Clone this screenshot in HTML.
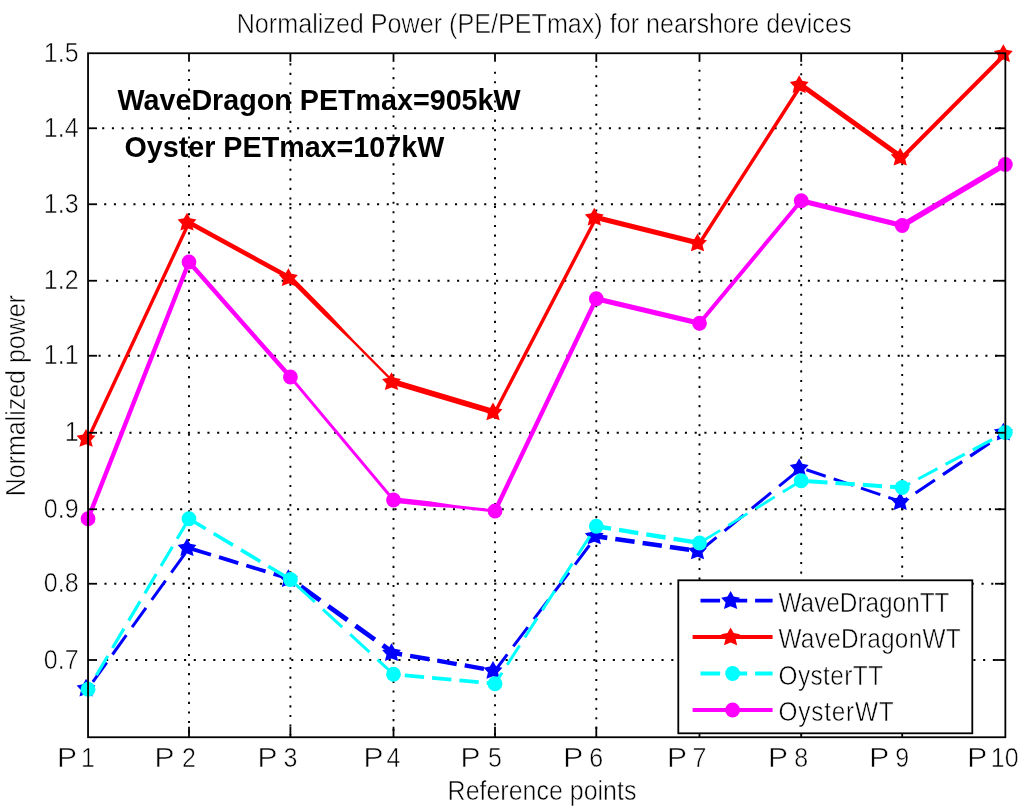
<!DOCTYPE html>
<html><head><meta charset="utf-8"><title>Normalized Power</title>
<style>html,body{margin:0;padding:0;background:#fff;}body{width:1024px;height:809px;overflow:hidden;}svg{display:block;will-change:transform;}text{font-family:"Liberation Sans",sans-serif;fill:#000;}</style></head><body>
<svg width="1024" height="809" viewBox="0 0 1024 809">
<rect x="0" y="0" width="1024" height="809" fill="#fff"/>
<g stroke="#000" stroke-width="1.9" fill="none">
<line x1="189.0" y1="69.38" x2="189.0" y2="735.25" stroke-dasharray="2.1 7.483"/>
<line x1="290.4" y1="63.28" x2="290.4" y2="735.25" stroke-dasharray="2.1 7.483"/>
<line x1="393.5" y1="67.48" x2="393.5" y2="735.25" stroke-dasharray="2.1 7.483"/>
<line x1="495.0" y1="71.65" x2="495.0" y2="735.25" stroke-dasharray="2.1 7.483"/>
<line x1="596.3" y1="65.63" x2="596.3" y2="735.25" stroke-dasharray="2.1 7.483"/>
<line x1="699.5" y1="69.63" x2="699.5" y2="735.25" stroke-dasharray="2.1 7.483"/>
<line x1="801.2" y1="63.64" x2="801.2" y2="735.25" stroke-dasharray="2.1 7.483"/>
<line x1="902.2" y1="67.28" x2="902.2" y2="735.25" stroke-dasharray="2.1 7.483"/>
<line x1="102.15" y1="128.25" x2="1003.35" y2="128.25" stroke-dasharray="2.1 7.645"/>
<line x1="104.15" y1="204.25" x2="1003.35" y2="204.25" stroke-dasharray="2.1 7.645"/>
<line x1="106.25" y1="280.75" x2="1003.35" y2="280.75" stroke-dasharray="2.1 7.645"/>
<line x1="98.55" y1="355.75" x2="1003.35" y2="355.75" stroke-dasharray="2.1 7.645"/>
<line x1="100.20" y1="432.75" x2="1003.35" y2="432.75" stroke-dasharray="2.1 7.645"/>
<line x1="102.12" y1="509.25" x2="1003.35" y2="509.25" stroke-dasharray="2.1 7.645"/>
<line x1="104.45" y1="583.75" x2="1003.35" y2="583.75" stroke-dasharray="2.1 7.645"/>
<line x1="106.05" y1="660.0" x2="1003.35" y2="660.0" stroke-dasharray="2.1 7.645"/>
</g>
<path d="M92.86,681.80L106.73,662.50 M112.48,654.50L126.35,635.20 M132.09,627.20L145.96,607.90 M151.71,599.90L165.58,580.60 M171.32,572.60L185.19,553.30" fill="none" stroke="#0000ff" stroke-width="3.0"/>
<path d="M191.70,548.83L211.00,554.73 M219.00,557.17L238.30,563.07 M246.30,565.52L265.60,571.42 M273.60,573.86L290.40,579.00" fill="none" stroke="#0000ff" stroke-width="3.8"/>
<path d="M290.40,579.00L292.90,580.79 M300.90,586.54L320.20,600.39 M328.20,606.13L347.50,619.98 M355.50,625.73L374.80,639.58 M382.80,645.32L393.50,653.00" fill="none" stroke="#0000ff" stroke-width="4.8"/>
<path d="M393.50,653.00L402.10,654.50 M410.10,655.90L429.40,659.28 M437.40,660.68L456.70,664.05 M464.70,665.45L484.00,668.83 M492.00,670.23L495.00,670.75" fill="none" stroke="#0000ff" stroke-width="4.4"/>
<path d="M495.00,670.75L507.28,654.45 M513.30,646.45L527.84,627.15 M533.86,619.15L548.40,599.85 M554.42,591.85L568.96,572.55 M574.99,564.55L589.52,545.25 M595.55,537.25L596.30,536.25" fill="none" stroke="#0000ff" stroke-width="3.0"/>
<path d="M596.30,536.25L607.30,537.85 M615.30,539.01L634.60,541.82 M642.60,542.98L661.90,545.78 M669.90,546.95L689.20,549.75 M697.20,550.92L699.50,551.25" fill="none" stroke="#0000ff" stroke-width="4.6"/>
<path d="M699.50,551.25L716.50,537.33 M724.50,530.79L743.80,514.99 M751.80,508.44L771.10,492.64 M779.10,486.09L798.40,470.29" fill="none" stroke="#0000ff" stroke-width="3.0"/>
<path d="M806.40,469.75L825.70,476.25 M833.70,478.94L853.00,485.44 M861.00,488.13L880.30,494.63 M888.30,497.32L902.20,502.00" fill="none" stroke="#0000ff" stroke-width="3.0"/>
<path d="M902.20,502.00L907.60,498.36 M915.60,492.97L934.90,479.97 M942.90,474.58L962.20,461.57 M970.20,456.18L989.50,443.18 M997.50,437.79L1005.35,432.50" fill="none" stroke="#0000ff" stroke-width="3.2"/>
<g fill="#0000ff"><polygon points="86.05,678.70 89.17,684.31 95.47,685.54 91.09,690.24 92.68,696.61 86.05,693.90 79.42,696.61 81.01,690.24 76.63,685.54 82.93,684.31"/><polygon points="187.00,538.20 190.12,543.81 196.42,545.04 192.04,549.74 193.63,556.11 187.00,553.40 180.37,556.11 181.96,549.74 177.58,545.04 183.88,543.81"/><polygon points="288.40,569.20 291.52,574.81 297.82,576.04 293.44,580.74 295.03,587.11 288.40,584.40 281.77,587.11 283.36,580.74 278.98,576.04 285.28,574.81"/><polygon points="391.50,643.20 394.62,648.81 400.92,650.04 396.54,654.74 398.13,661.11 391.50,658.40 384.87,661.11 386.46,654.74 382.08,650.04 388.38,648.81"/><polygon points="493.00,660.95 496.12,666.56 502.42,667.79 498.04,672.49 499.63,678.86 493.00,676.15 486.37,678.86 487.96,672.49 483.58,667.79 489.88,666.56"/><polygon points="594.30,526.45 597.42,532.06 603.72,533.29 599.34,537.99 600.93,544.36 594.30,541.65 587.67,544.36 589.26,537.99 584.88,533.29 591.18,532.06"/><polygon points="697.50,541.45 700.62,547.06 706.92,548.29 702.54,552.99 704.13,559.36 697.50,556.65 690.87,559.36 692.46,552.99 688.08,548.29 694.38,547.06"/><polygon points="799.20,458.20 802.32,463.81 808.62,465.04 804.24,469.74 805.83,476.11 799.20,473.40 792.57,476.11 794.16,469.74 789.78,465.04 796.08,463.81"/><polygon points="900.20,492.20 903.32,497.81 909.62,499.04 905.24,503.74 906.83,510.11 900.20,507.40 893.57,510.11 895.16,503.74 890.78,499.04 897.08,497.81"/><polygon points="1003.35,422.70 1006.47,428.31 1012.77,429.54 1008.39,434.24 1009.98,440.61 1003.35,437.90 996.72,440.61 998.31,434.24 993.93,429.54 1000.23,428.31"/></g>
<line x1="88.05" y1="438.75" x2="189.00" y2="222.50" stroke="#ff0000" stroke-width="3.4" stroke-linecap="round"/>
<line x1="189.00" y1="222.50" x2="290.40" y2="278.00" stroke="#ff0000" stroke-width="4.6" stroke-linecap="round"/>
<polygon points="288.73,279.65 324.82,316.05 351.41,341.24 392.65,382.84 394.35,381.16 353.11,339.56 328.15,312.75 292.07,276.35" fill="#ff0000"/>
<line x1="393.50" y1="382.00" x2="495.00" y2="412.25" stroke="#ff0000" stroke-width="5.6" stroke-linecap="round"/>
<line x1="495.00" y1="412.25" x2="596.30" y2="217.50" stroke="#ff0000" stroke-width="3.4" stroke-linecap="round"/>
<line x1="596.30" y1="217.50" x2="699.50" y2="243.25" stroke="#ff0000" stroke-width="5.0" stroke-linecap="round"/>
<line x1="699.50" y1="243.25" x2="801.20" y2="85.00" stroke="#ff0000" stroke-width="3.5" stroke-linecap="round"/>
<line x1="801.20" y1="85.00" x2="902.20" y2="157.50" stroke="#ff0000" stroke-width="5.0" stroke-linecap="round"/>
<line x1="902.20" y1="157.50" x2="1005.35" y2="54.00" stroke="#ff0000" stroke-width="3.9" stroke-linecap="round"/>
<g fill="#ff0000"><polygon points="86.05,428.95 89.17,434.56 95.47,435.79 91.09,440.49 92.68,446.86 86.05,444.15 79.42,446.86 81.01,440.49 76.63,435.79 82.93,434.56"/><polygon points="187.00,212.70 190.12,218.31 196.42,219.54 192.04,224.24 193.63,230.61 187.00,227.90 180.37,230.61 181.96,224.24 177.58,219.54 183.88,218.31"/><polygon points="288.40,268.20 291.52,273.81 297.82,275.04 293.44,279.74 295.03,286.11 288.40,283.40 281.77,286.11 283.36,279.74 278.98,275.04 285.28,273.81"/><polygon points="391.50,372.20 394.62,377.81 400.92,379.04 396.54,383.74 398.13,390.11 391.50,387.40 384.87,390.11 386.46,383.74 382.08,379.04 388.38,377.81"/><polygon points="493.00,402.45 496.12,408.06 502.42,409.29 498.04,413.99 499.63,420.36 493.00,417.65 486.37,420.36 487.96,413.99 483.58,409.29 489.88,408.06"/><polygon points="594.30,207.70 597.42,213.31 603.72,214.54 599.34,219.24 600.93,225.61 594.30,222.90 587.67,225.61 589.26,219.24 584.88,214.54 591.18,213.31"/><polygon points="697.50,233.45 700.62,239.06 706.92,240.29 702.54,244.99 704.13,251.36 697.50,248.65 690.87,251.36 692.46,244.99 688.08,240.29 694.38,239.06"/><polygon points="799.20,75.20 802.32,80.81 808.62,82.04 804.24,86.74 805.83,93.11 799.20,90.40 792.57,93.11 794.16,86.74 789.78,82.04 796.08,80.81"/><polygon points="900.20,147.70 903.32,153.31 909.62,154.54 905.24,159.24 906.83,165.61 900.20,162.90 893.57,165.61 895.16,159.24 890.78,154.54 897.08,153.31"/><polygon points="1003.35,44.20 1006.47,49.81 1012.77,51.04 1008.39,55.74 1009.98,62.11 1003.35,59.40 996.72,62.11 998.31,55.74 993.93,51.04 1000.23,49.81"/></g>
<path d="M88.05,689.25L91.60,683.25 M96.34,675.25L107.77,655.95 M112.50,647.95L123.93,628.65 M128.67,620.65L140.09,601.35 M144.83,593.35L156.26,574.05 M160.99,566.05L172.42,546.75 M177.16,538.75L188.59,519.45" fill="none" stroke="#00ffff" stroke-width="3.2"/>
<path d="M189.00,518.75L205.70,528.76 M213.70,533.55L233.00,545.11 M241.00,549.90L260.30,561.47 M268.30,566.26L287.60,577.82" fill="none" stroke="#00ffff" stroke-width="3.6"/>
<path d="M295.60,584.28L314.90,602.02 M322.90,609.37L342.20,627.10 M350.20,634.46L369.50,652.19 M377.50,659.55L393.50,674.25" fill="none" stroke="#00ffff" stroke-width="3.0"/>
<path d="M393.50,674.25L396.80,674.56 M404.80,675.31L424.10,677.11 M432.10,677.86L451.40,679.67 M459.40,680.42L478.70,682.22 M486.70,682.97L495.00,683.75" fill="none" stroke="#00ffff" stroke-width="3.8"/>
<path d="M495.00,683.75L502.07,672.75 M507.22,664.75L519.63,645.45 M524.78,637.45L537.19,618.15 M542.34,610.15L554.75,590.85 M559.90,582.85L572.31,563.55 M577.45,555.55L589.87,536.25 M595.01,528.25L596.30,526.25" fill="none" stroke="#00ffff" stroke-width="3.0"/>
<path d="M596.30,526.25L611.00,528.64 M619.00,529.93L638.30,533.07 M646.30,534.37L665.60,537.50 M673.60,538.80L692.90,541.93" fill="none" stroke="#00ffff" stroke-width="4.4"/>
<path d="M700.90,542.14L720.20,530.33 M728.20,525.43L747.50,513.62 M755.50,508.72L774.80,496.91 M782.80,492.01L801.20,480.75" fill="none" stroke="#00ffff" stroke-width="2.8"/>
<path d="M808.20,481.22L827.50,482.51 M835.50,483.04L854.80,484.33 M862.80,484.87L882.10,486.16 M890.10,486.69L902.20,487.50" fill="none" stroke="#00ffff" stroke-width="4.0"/>
<path d="M902.20,487.50L910.20,483.23 M918.20,478.97L937.50,468.68 M945.50,464.41L964.80,454.12 M972.80,449.86L992.10,439.56 M1000.10,435.30L1005.35,432.50" fill="none" stroke="#00ffff" stroke-width="3.0"/>
<g fill="#00ffff"><circle cx="88.05" cy="689.25" r="7.4"/><circle cx="189.0" cy="518.75" r="7.4"/><circle cx="290.4" cy="579.5" r="7.4"/><circle cx="393.5" cy="674.25" r="7.4"/><circle cx="495.0" cy="683.75" r="7.4"/><circle cx="596.3" cy="526.25" r="7.4"/><circle cx="699.5" cy="543" r="7.4"/><circle cx="801.2" cy="480.75" r="7.4"/><circle cx="902.2" cy="487.5" r="7.4"/><circle cx="1005.35" cy="432.5" r="7.4"/></g>
<line x1="88.05" y1="518.75" x2="189.00" y2="262.00" stroke="#ff00ff" stroke-width="4.4" stroke-linecap="round"/>
<line x1="189.00" y1="262.00" x2="290.40" y2="377.00" stroke="#ff00ff" stroke-width="4.4" stroke-linecap="round"/>
<line x1="290.40" y1="377.00" x2="393.50" y2="500.00" stroke="#ff00ff" stroke-width="2.9" stroke-linecap="round"/>
<polygon points="393.21,502.68 428.73,506.53 454.24,508.09 494.84,512.49 495.16,509.51 454.56,505.11 429.32,501.17 393.79,497.32" fill="#ff00ff"/>
<line x1="495.00" y1="511.00" x2="596.30" y2="298.75" stroke="#ff00ff" stroke-width="4.4" stroke-linecap="round"/>
<line x1="596.30" y1="298.75" x2="699.50" y2="323.25" stroke="#ff00ff" stroke-width="5.2" stroke-linecap="round"/>
<line x1="699.50" y1="323.25" x2="801.20" y2="200.75" stroke="#ff00ff" stroke-width="4.0" stroke-linecap="round"/>
<line x1="801.20" y1="200.75" x2="902.20" y2="225.50" stroke="#ff00ff" stroke-width="5.2" stroke-linecap="round"/>
<line x1="902.20" y1="225.50" x2="1005.35" y2="164.40" stroke="#ff00ff" stroke-width="5.6" stroke-linecap="round"/>
<g fill="#ff00ff"><circle cx="88.05" cy="518.75" r="7.4"/><circle cx="189.0" cy="262" r="7.4"/><circle cx="290.4" cy="377" r="7.4"/><circle cx="393.5" cy="500" r="7.4"/><circle cx="495.0" cy="511" r="7.4"/><circle cx="596.3" cy="298.75" r="7.4"/><circle cx="699.5" cy="323.25" r="7.4"/><circle cx="801.2" cy="200.75" r="7.4"/><circle cx="902.2" cy="225.5" r="7.4"/><circle cx="1005.35" cy="164.4" r="7.4"/></g>
<g stroke="#000" stroke-width="1.8" fill="none">
<rect x="88.05" y="53.25" width="917.30" height="684.00"/>
<line x1="189.0" y1="737.25" x2="189.0" y2="726.75"/><line x1="189.0" y1="53.25" x2="189.0" y2="61.85"/>
<line x1="290.4" y1="737.25" x2="290.4" y2="726.75"/><line x1="290.4" y1="53.25" x2="290.4" y2="61.85"/>
<line x1="393.5" y1="737.25" x2="393.5" y2="726.75"/><line x1="393.5" y1="53.25" x2="393.5" y2="61.85"/>
<line x1="495.0" y1="737.25" x2="495.0" y2="726.75"/><line x1="495.0" y1="53.25" x2="495.0" y2="61.85"/>
<line x1="596.3" y1="737.25" x2="596.3" y2="726.75"/><line x1="596.3" y1="53.25" x2="596.3" y2="61.85"/>
<line x1="699.5" y1="737.25" x2="699.5" y2="726.75"/><line x1="699.5" y1="53.25" x2="699.5" y2="61.85"/>
<line x1="801.2" y1="737.25" x2="801.2" y2="726.75"/><line x1="801.2" y1="53.25" x2="801.2" y2="61.85"/>
<line x1="902.2" y1="737.25" x2="902.2" y2="726.75"/><line x1="902.2" y1="53.25" x2="902.2" y2="61.85"/>
<line x1="88.05" y1="128.25" x2="97.05" y2="128.25"/><line x1="1005.35" y1="128.25" x2="994.95" y2="128.25"/>
<line x1="88.05" y1="204.25" x2="97.05" y2="204.25"/><line x1="1005.35" y1="204.25" x2="994.95" y2="204.25"/>
<line x1="88.05" y1="280.75" x2="97.05" y2="280.75"/><line x1="1005.35" y1="280.75" x2="994.95" y2="280.75"/>
<line x1="88.05" y1="355.75" x2="97.05" y2="355.75"/><line x1="1005.35" y1="355.75" x2="994.95" y2="355.75"/>
<line x1="88.05" y1="432.75" x2="97.05" y2="432.75"/><line x1="1005.35" y1="432.75" x2="994.95" y2="432.75"/>
<line x1="88.05" y1="509.25" x2="97.05" y2="509.25"/><line x1="1005.35" y1="509.25" x2="994.95" y2="509.25"/>
<line x1="88.05" y1="583.75" x2="97.05" y2="583.75"/><line x1="1005.35" y1="583.75" x2="994.95" y2="583.75"/>
<line x1="88.05" y1="660.0" x2="97.05" y2="660.0"/><line x1="1005.35" y1="660.0" x2="994.95" y2="660.0"/>
</g>
<g font-size="25px" stroke="#fff" stroke-width="0.5">
<text transform="translate(78.60,61.75) scale(1,1.09)" text-anchor="end" xml:space="preserve">1.5</text>
<text transform="translate(78.60,136.75) scale(1,1.09)" text-anchor="end" xml:space="preserve">1.4</text>
<text transform="translate(78.60,212.75) scale(1,1.09)" text-anchor="end" xml:space="preserve">1.3</text>
<text transform="translate(78.60,289.25) scale(1,1.09)" text-anchor="end" xml:space="preserve">1.2</text>
<text transform="translate(78.60,364.25) scale(1,1.09)" text-anchor="end" xml:space="preserve">1.1</text>
<text transform="translate(78.60,441.25) scale(1,1.09)" text-anchor="end" xml:space="preserve">1</text>
<text transform="translate(78.60,517.75) scale(1,1.09)" text-anchor="end" xml:space="preserve">0.9</text>
<text transform="translate(78.60,592.25) scale(1,1.09)" text-anchor="end" xml:space="preserve">0.8</text>
<text transform="translate(78.60,668.50) scale(1,1.09)" text-anchor="end" xml:space="preserve">0.7</text>
<text transform="translate(57.00,766.8) scale(1.2,1.09)">P</text>
<text transform="translate(88.05,766.80) scale(1,1.09)" text-anchor="middle" xml:space="preserve">1</text>
<text transform="translate(154.50,766.8) scale(1.2,1.09)">P</text>
<text transform="translate(189.00,766.80) scale(1,1.09)" text-anchor="middle" xml:space="preserve">2</text>
<text transform="translate(257.50,766.8) scale(1.2,1.09)">P</text>
<text transform="translate(290.40,766.80) scale(1,1.09)" text-anchor="middle" xml:space="preserve">3</text>
<text transform="translate(363.50,766.8) scale(1.2,1.09)">P</text>
<text transform="translate(393.50,766.80) scale(1,1.09)" text-anchor="middle" xml:space="preserve">4</text>
<text transform="translate(460.50,766.8) scale(1.2,1.09)">P</text>
<text transform="translate(495.00,766.80) scale(1,1.09)" text-anchor="middle" xml:space="preserve">5</text>
<text transform="translate(563.30,766.8) scale(1.2,1.09)">P</text>
<text transform="translate(596.30,766.80) scale(1,1.09)" text-anchor="middle" xml:space="preserve">6</text>
<text transform="translate(667.00,766.8) scale(1.2,1.09)">P</text>
<text transform="translate(699.50,766.80) scale(1,1.09)" text-anchor="middle" xml:space="preserve">7</text>
<text transform="translate(768.10,766.8) scale(1.2,1.09)">P</text>
<text transform="translate(801.20,766.80) scale(1,1.09)" text-anchor="middle" xml:space="preserve">8</text>
<text transform="translate(869.25,766.8) scale(1.2,1.09)">P</text>
<text transform="translate(902.20,766.80) scale(1,1.09)" text-anchor="middle" xml:space="preserve">9</text>
<text transform="translate(967.20,766.8) scale(1.2,1.09)">P</text>
<text transform="translate(1004.75,766.80) scale(1,1.09)" text-anchor="middle" xml:space="preserve">10</text>
<text transform="translate(544.1,32.8) scale(1,1.09)" text-anchor="middle" font-size="25.15px">Normalized Power (PE/PETmax) for nearshore devices</text>
<text transform="translate(542.00,799.50) scale(1,1.09)" text-anchor="middle" xml:space="preserve">Reference points</text>
<text transform="translate(24.60,395.70) rotate(-90) scale(1,1.09)" text-anchor="middle" xml:space="preserve">Normalized power</text>
</g>
<g font-size="28.7px" font-weight="bold">
<text x="117.5" y="109.6">WaveDragon PETmax=905kW</text>
<text x="124.5" y="156.8">Oyster PETmax=107kW</text>
</g>
<rect x="678.3" y="580.3" width="294.00" height="153.00" fill="#fff" stroke="#000" stroke-width="1.8"/>
<path d="M700.5,600.6L720.1,600.6 M727.8,600.6L747.2,600.6 M755.1,600.6L772.6,600.6" stroke="#0000ff" stroke-width="3.8" fill="none"/>
<g fill="#0000ff"><polygon points="730.60,591.00 733.72,596.61 740.02,597.84 735.64,602.54 737.23,608.91 730.60,606.20 723.97,608.91 725.56,602.54 721.18,597.84 727.48,596.61"/></g>
<line x1="692.6" y1="637.0" x2="772.6" y2="637.0" stroke="#ff0000" stroke-width="4"/>
<g fill="#ff0000"><polygon points="730.60,627.40 733.72,633.01 740.02,634.24 735.64,638.94 737.23,645.31 730.60,642.60 723.97,645.31 725.56,638.94 721.18,634.24 727.48,633.01"/></g>
<path d="M700.5,673.5L720.1,673.5 M727.8,673.5L747.2,673.5 M755.1,673.5L772.6,673.5" stroke="#00ffff" stroke-width="3.8" fill="none"/>
<circle cx="732.6" cy="673.5" r="7.4" fill="#00ffff"/>
<line x1="692.6" y1="710.0" x2="772.6" y2="710.0" stroke="#ff00ff" stroke-width="4"/>
<circle cx="732.6" cy="710.0" r="7.4" fill="#ff00ff"/>
<g font-size="24.4px" stroke="#fff" stroke-width="0.5">
<text transform="translate(778.5,611.60) scale(1,1.11)" textLength="171.0" lengthAdjust="spacing">WaveDragonTT</text>
<text transform="translate(778.5,648.00) scale(1,1.11)" textLength="182.2" lengthAdjust="spacing">WaveDragonWT</text>
<text transform="translate(778.5,684.50) scale(1,1.11)" textLength="104.6" lengthAdjust="spacing">OysterTT</text>
<text transform="translate(778.5,721.00) scale(1,1.11)" textLength="115.2" lengthAdjust="spacing">OysterWT</text>
</g>
</svg></body></html>
